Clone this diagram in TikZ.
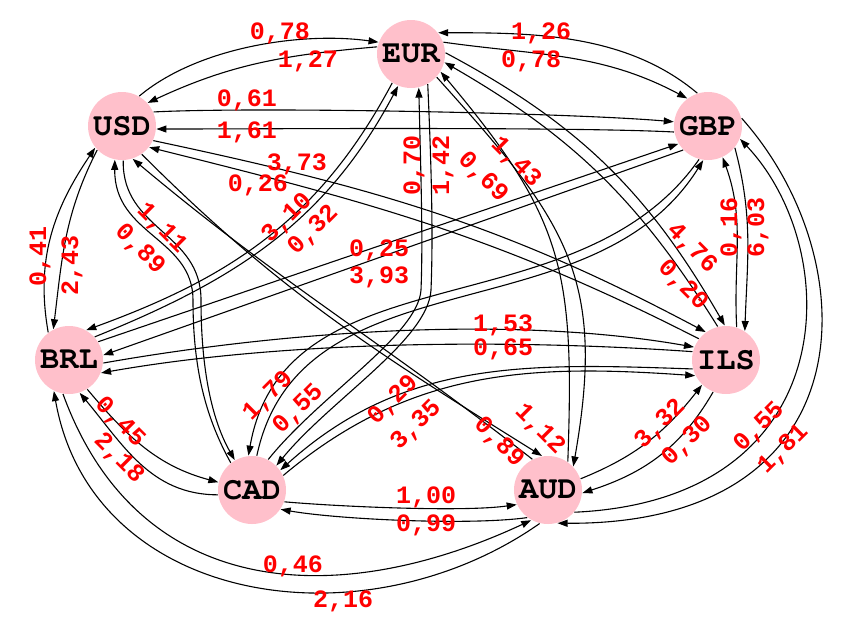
\documentclass[tikz,border=0pt]{standalone}
\usepackage[T1]{fontenc}
\usepackage{fontspec}
\usepackage{tikz}
\usetikzlibrary{arrows.meta}
\newfontfamily\ratefont{Liberation Mono}
\newcommand\codefont{\fontencoding{T1}\fontfamily{pcr}\fontseries{b}\selectfont}
\definecolor{nodepink}{RGB}{255,192,203}

\begin{document}
\begin{tikzpicture}[x=1pt,y=1pt,>={Triangle[length=10pt,width=7pt]},line width=1.1pt]
 \tikzstyle{currency node}=[circle,fill=nodepink,minimum size=68pt,inner sep=0pt,font=\codefont\fontsize{32}{36}\selectfont]
 \tikzset{
   rate/.style={text=red,inner sep=0pt,text height=16pt,text depth=0pt,font=\ratefont\bfseries\fontsize{25}{30}\selectfont},
   up rate/.style={rate,rotate=90},
   rise rate/.style={rate,rotate=45},
   fall rate/.style={rate,rotate=-45}
 }
 \useasboundingbox (0,0) rectangle (856,-633);

 \node[currency node] (EUR) at (411,-54) {EUR};
 \node[currency node] (GBP) at (708,-126) {GBP};
 \node[currency node] (USD) at (122,-126) {USD};
 \node[currency node] (BRL) at (69,-360) {BRL};
 \node[currency node] (ILS) at (726,-360) {ILS};
 \node[currency node] (CAD) at (252,-490) {CAD};
 \node[currency node] (AUD) at (548,-490) {AUD};

 % USD -- EUR
 \path[->] (USD.60) edge[out=40,in=172,looseness=.8] (EUR.160);
 \path[->] (EUR.168) edge[out=185,in=25] (USD.42);
 % EUR -- GBP
 \path[->] (GBP.108) edge[out=140,in=0,looseness=.9] (EUR.38);
 \path[->] (EUR.20) edge[out=-8,in=152] (GBP.127);
 % USD -- GBP
 \path[->] (USD.24) edge[out=3,in=175,looseness=.5] (GBP.173);
 \path[->] (GBP.190) edge[out=177,in=0,looseness=.5] (USD.-5);
 % USD -- BRL
 \path[->] (BRL.127) edge[out=100,in=236] (USD.219);
 \path[->] (USD.224) edge[out=243,in=83] (BRL.117);
 % USD -- CAD
 \draw[->] (USD.272) .. controls (122,-230) and (201,-232) .. (201,-300)
   .. controls (201,-370) and (212,-420) .. (CAD.120);
 \draw[->] (CAD.128) .. controls (206,-418) and (193,-370) .. (193,-300)
   .. controls (193,-238) and (114,-235) .. (USD.258);
 % USD -- AUD
 \path[->] (USD.-55) edge[out=-45,in=148] (AUD.100);
 \path[->] (AUD.117) edge[out=142,in=-40] (USD.-72);
 % USD -- ILS
 \path[->] (USD.-25) edge[out=-12,in=152] (ILS.126);
 \path[->] (ILS.142) edge[out=153,in=-14] (USD.-38);
 % EUR -- BRL
 \path[->] (EUR.237) edge[out=242,in=20] (BRL.60);
 \path[->] (BRL.42) edge[out=22,in=242] (EUR.248);
 % EUR -- CAD
 \draw[->] (EUR.299) .. controls (432,-180) and (433,-240) .. (431,-290)
   .. controls (428,-340) and (330,-400) .. (CAD.45);
 \draw[->] (CAD.62) .. controls (320,-395) and (418,-335) .. (421,-290)
   .. controls (423,-240) and (421,-180) .. (EUR.283);
 % EUR -- AUD
 \path[->] (AUD.55) edge[out=88,in=-50,looseness=1.2] (EUR.-31);
 \path[->] (EUR.-42) edge[out=-48,in=80,looseness=1.2] (AUD.43);
 % EUR -- ILS
 \path[->] (EUR.2) edge[out=-28,in=120] (ILS.92);
 \path[->] (ILS.104) edge[out=122,in=-30] (EUR.-14);
 % GBP -- BRL
 \path[->] (BRL.32) edge (GBP.211);
 \path[->] (GBP.224) edge (BRL.8);
 % GBP -- CAD
 \path[->] (GBP.255) edge[out=235,in=80] (CAD.96);
 \path[->] (CAD.82) edge[out=78,in=238] (GBP.262);
 % GBP -- ILS
 \path[->] (GBP.-39) edge[out=-75,in=88] (ILS.57);
 \path[->] (ILS.72) edge[out=93,in=-70] (GBP.-65);
 % GBP -- AUD
 \draw[->] (GBP.13) .. controls (868,-260) and (870,-525) .. (AUD.-74);
 \draw[->] (AUD.-40) .. controls (845,-500) and (845,-250) .. (GBP.-22);
 % BRL -- CAD
 \path[->] (BRL.-58) edge[out=-50,in=165] (CAD.167);
 \path[->] (CAD.188) edge[out=180,in=-50] (BRL.-72);
 % BRL -- AUD
 \path[->] (BRL.-100) edge[out=-70,in=205,looseness=1.15] (AUD.241);
 \path[->] (AUD.256) edge[out=215,in=280,looseness=1.1] (BRL.244);
 % BRL -- ILS
 \path[->] (BRL.-5) edge[out=10,in=170,looseness=.8] (ILS.158);
 \path[->] (ILS.166) edge[out=176,in=10,looseness=.8] (BRL.-22);
 % CAD -- AUD
 \path[->] (CAD.-20) edge[out=-5,in=188,looseness=.6] (AUD.205);
 \path[->] (AUD.233) edge[out=188,in=-10,looseness=.6] (CAD.-34);
 % CAD -- ILS
 \path[->] (CAD.25) edge[out=40,in=176] (ILS.207);
 \path[->] (ILS.195) edge[out=178,in=42] (CAD.35);
 % AUD -- ILS
 \path[->] (AUD.19) edge[out=22,in=232] (ILS.226);
 \path[->] (ILS.248) edge[out=240,in=18] (AUD.-5);

 % rates
 \node[rate] (usd-eur) at (280,-31) {0,78};
 \node[rate] (eur-usd) at (308,-59) {1,27};
 \node[rate] (gbp-eur) at (541,-31) {1,26};
 \node[rate] (eur-gbp) at (531,-59) {0,78};
 \node[rate] (usd-gbp) at (247,-98) {0,61};
 \node[rate] (gbp-usd) at (247,-130) {1,61};
 \node[rate] (usd-ils) at (297,-162) {3,73};
 \node[rate] (ils-usd) at (258,-183) {0,26};
 \node[up rate] (brl-usd) at (38,-256) {0,41};
 \node[up rate] (usd-brl) at (70,-265) {2,43};
 \node[fall rate] (usd-cad) at (163,-227) {1,11};
 \node[fall rate] (cad-usd) at (141,-248) {0,89};
 \node[rise rate] (eur-brl) at (286,-217) {3,10};
 \node[rise rate] (brl-eur) at (312,-229) {0,32};
 \node[up rate] (cad-eur) at (412,-165) {0,70};
 \node[up rate] (eur-cad) at (441,-165) {1,42};
 \node[fall rate] (aud-eur) at (484,-176) {0,69};
 \node[fall rate] (eur-aud) at (517,-161) {1,43};
 \node[fall rate] (eur-ils) at (693,-247) {4,76};
 \node[fall rate] (ils-eur) at (684,-284) {0,20};
 \node[up rate] (ils-gbp) at (729,-227) {0,16};
 \node[up rate] (gbp-ils) at (756,-227) {6,03};
 \node[rate] (brl-gbp) at (379,-248) {0,25};
 \node[rate] (gbp-brl) at (379,-275) {3,93};
 \node[rate] (brl-ils) at (503,-323) {1,53};
 \node[rate] (ils-brl) at (503,-347) {0,65};
 \node[rise rate] (gbp-cad) at (267,-395) {1,79};
 \node[rise rate] (cad-gbp) at (297,-408) {0,55};
 \node[rise rate] (ils-cad) at (392,-399) {0,29};
 \node[rise rate] (cad-ils) at (415,-424) {3,35};
 \node[fall rate] (usd-aud) at (541,-428) {1,12};
 \node[fall rate] (aud-usd) at (500,-441) {0,89};
 \node[fall rate] (brl-cad) at (121,-421) {0,45};
 \node[fall rate] (cad-brl) at (120,-457) {2,18};
 \node[rate] (cad-aud) at (426,-495) {1,00};
 \node[rate] (aud-cad) at (426,-523) {0,99};
 \node[rate] (brl-aud) at (293,-564) {0,46};
 \node[rate] (aud-brl) at (343,-599) {2,16};
 \node[rise rate] (aud-ils) at (659,-423) {3,32};
 \node[rise rate] (ils-aud) at (686,-440) {0,30};
 \node[rise rate] (aud-gbp) at (758,-426) {0,55};
 \node[rise rate] (gbp-aud) at (782,-448) {1,81};
\end{tikzpicture}
\end{document}
